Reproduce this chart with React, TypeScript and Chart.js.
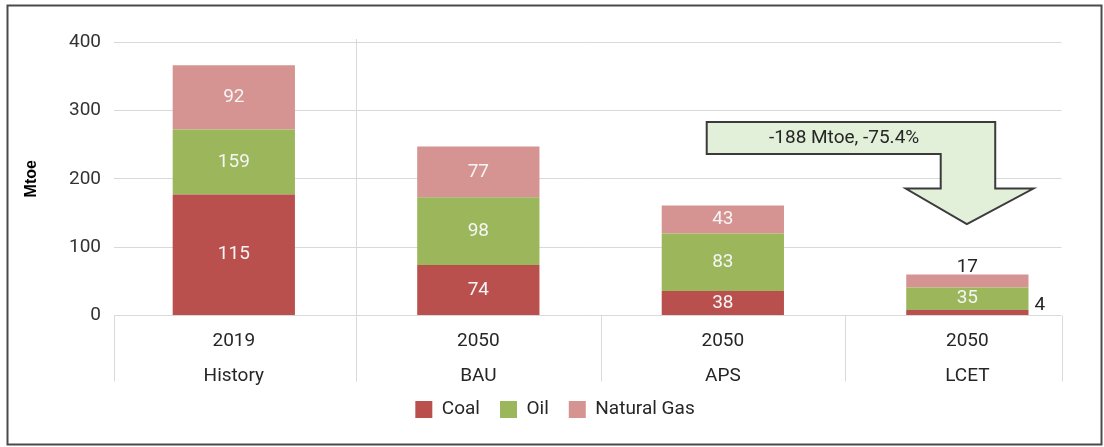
import React, { useEffect, useRef } from 'react';
import { Chart, registerables } from 'chart.js';

Chart.register(...registerables);

// ---- data ----
const years = ['2019', '2050', '2050', '2050'];
const scenarios = ['History', 'BAU', 'APS', 'LCET'];
// segment heights as drawn in the picture (Mtoe)
const coal = [177, 74, 36, 8];
const oil = [95, 99, 84, 33];
const gas = [94, 74, 41, 19];
// printed labels
const coalLabels = ['115', '74', '38', '4'];
const oilLabels = ['159', '98', '83', '35'];
const gasLabels = ['92', '77', '43', '17'];
const seriesNames = ['Coal', 'Oil', 'Natural Gas'];
const seriesColors = ['#BA504E', '#9BB65B', '#D59391'];
const yMin = 0;
const yMax = 400;
const yStep = 100;
// annotation arrow (x in category units, y in Mtoe)
const arrowPts: number[][] = [
  [1.934, 283], [3.114, 283], [3.114, 185.7], [3.27, 185.7], [2.998, 133.8],
  [2.748, 185.7], [2.891, 185.7], [2.891, 236.2], [1.934, 236.2],
];
const arrowText = '-188 Mtoe, -75.4%';
const arrowTextPos = [2.496, 258.9];

const FONT = 'Roboto, "Noto Sans", sans-serif';

const framePlugin = {
  id: 'frame',
  afterLayout(chart: any) {
    // let the two-line category labels extend below the axis box without clipping
    const x = chart.scales.x;
    x.bottom = x.top + 80;
  },
  afterDraw(chart: any) {
    const ctx = chart.ctx;
    ctx.save();
    ctx.strokeStyle = '#4a4a4a';
    ctx.lineWidth = 2;
    ctx.strokeRect(7.5, 5.5, 1094, 439);
    ctx.restore();
  },
};

const sepPlugin = {
  id: 'separators',
  beforeDatasetsDraw(chart: any) {
    const { ctx, chartArea, scales } = chart;
    const x = scales.x;
    const bottom = chartArea.bottom;
    const ext = 66;
    ctx.save();
    ctx.strokeStyle = '#d9d9d9';
    ctx.lineWidth = 1;
    const bounds = [chartArea.left];
    for (let i = 0; i < years.length - 1; i++) bounds.push(x.getPixelForValue(i + 0.5));
    bounds.push(chartArea.right);
    const line = (x1: number, y1: number, x2: number, y2: number) => {
      ctx.beginPath();
      ctx.moveTo(x1, y1);
      ctx.lineTo(x2, y2);
      ctx.stroke();
    };
    bounds.forEach((px) => {
      const p = Math.round(px) + 0.5;
      line(p, bottom, p, bottom + ext);
    });
    const dx = Math.round(x.getPixelForValue(0.5)) + 0.5;
    line(dx, chartArea.top - 3, dx, bottom + ext);
    ctx.restore();
  },
};

const labelPlugin = {
  id: 'segLabels',
  afterDatasetsDraw(chart: any) {
    const ctx = chart.ctx;
    const sets = [coalLabels, oilLabels, gasLabels];
    ctx.save();
    ctx.font = '19px ' + FONT;
    ctx.textBaseline = 'middle';
    sets.forEach((labels, d) => {
      const meta = chart.getDatasetMeta(d);
      meta.data.forEach((bar: any, i: number) => {
        const { x, y, base, width } = bar.getProps(['x', 'y', 'base', 'width'], true);
        const h = base - y;
        let tx = x;
        let ty = (y + base) / 2;
        let align: CanvasTextAlign = 'center';
        let color = '#F5F5F5';
        if (h < 18) {
          color = '#262626';
          if (d === sets.length - 1) {
            ty = y - 7.5;
          } else {
            tx = x + width / 2 + 6;
            ty = (y + base) / 2 - 7;
            align = 'left';
          }
        }
        ctx.fillStyle = color;
        ctx.textAlign = align;
        ctx.fillText(labels[i], tx, ty);
      });
    });
    ctx.restore();
  },
};

const arrowPlugin = {
  id: 'arrow',
  afterDatasetsDraw(chart: any) {
    const { ctx, scales } = chart;
    const x = scales.x;
    const y = scales.y;
    ctx.save();
    ctx.beginPath();
    arrowPts.forEach(([a, b], k) => {
      const px = x.getPixelForValue(a);
      const py = y.getPixelForValue(b);
      if (k) ctx.lineTo(px, py);
      else ctx.moveTo(px, py);
    });
    ctx.closePath();
    ctx.fillStyle = '#E2EFD9';
    ctx.fill();
    ctx.lineWidth = 2;
    ctx.lineJoin = 'miter';
    ctx.strokeStyle = '#3b3b3b';
    ctx.stroke();
    ctx.fillStyle = '#262626';
    ctx.font = '19px ' + FONT;
    ctx.textAlign = 'center';
    ctx.textBaseline = 'middle';
    ctx.fillText(arrowText, x.getPixelForValue(arrowTextPos[0]), y.getPixelForValue(arrowTextPos[1]));
    ctx.restore();
  },
};

export default function App() {
  const ref = useRef<HTMLCanvasElement | null>(null);

  useEffect(() => {
    if (!ref.current) return;
    const seriesData = [coal, oil, gas];
    const chart = new Chart(ref.current, {
      type: 'bar',
      data: {
        datasets: seriesData.map((vals, d) => ({
          label: seriesNames[d],
          data: vals.map((v, i) => ({ x: i, y: v })),
          backgroundColor: seriesColors[d],
          borderWidth: 0,
          categoryPercentage: 0.5,
          barPercentage: 1.0,
        })),
      },
      options: {
        animation: false,
        responsive: false,
        maintainAspectRatio: false,
        layout: { padding: { top: 42, left: 8, right: 2, bottom: 18 } },
        plugins: {
          legend: {
            position: 'bottom',
            labels: {
              boxWidth: 17,
              boxHeight: 17,
              padding: 20,
              color: '#262626',
              font: { family: FONT, size: 19 },
            },
          },
          tooltip: { enabled: false },
        },
        scales: {
          x: {
            type: 'linear',
            stacked: true,
            offset: false,
            min: -0.49,
            max: 3.385,
            grid: { display: false, drawTicks: false },
            border: { display: false },
            afterBuildTicks: (s: any) => {
              s.ticks = years.map((_, i) => ({ value: i }));
            },
            afterFit: (s: any) => {
              s.height = 64.5;
            },
            ticks: {
              autoSkip: false,
              maxRotation: 0,
              padding: 8,
              color: '#262626',
              font: { family: FONT, size: 19, lineHeight: '35px' },
              callback: (v: any) => [years[v], scenarios[v]],
            },
          },
          y: {
            type: 'linear',
            position: 'left',
            stacked: true,
            min: yMin,
            max: yMax,
            grid: { color: '#d9d9d9', lineWidth: 1, drawTicks: false },
            border: { display: false },
            afterFit: (s: any) => {
              s.width = 106;
            },
            ticks: {
              stepSize: yStep,
              padding: 13,
              color: '#333333',
              font: { family: FONT, size: 19 },
            },
            title: {
              display: true,
              text: 'Mtoe',
              color: '#000000',
              font: { family: '"Liberation Sans", Arial, sans-serif', size: 16, weight: 'bold' },
              padding: { top: 14, bottom: 0 },
            },
          },
          yR: {
            type: 'linear',
            position: 'right',
            display: true,
            grid: { display: false, drawTicks: false },
            border: { display: false },
            ticks: { display: false },
            afterFit: (s: any) => {
              s.width = 40.5;
            },
          },
        },
      } as any,
      plugins: [sepPlugin, labelPlugin, arrowPlugin, framePlugin],
    });
    return () => chart.destroy();
  }, []);

  return (
    <div style={{ position: 'absolute', left: 0, top: 0, width: 1104, height: 447, background: '#ffffff' }}>
      <canvas ref={ref} width={1104} height={447} style={{ display: 'block', width: 1104, height: 447 }} />
    </div>
  );
}
